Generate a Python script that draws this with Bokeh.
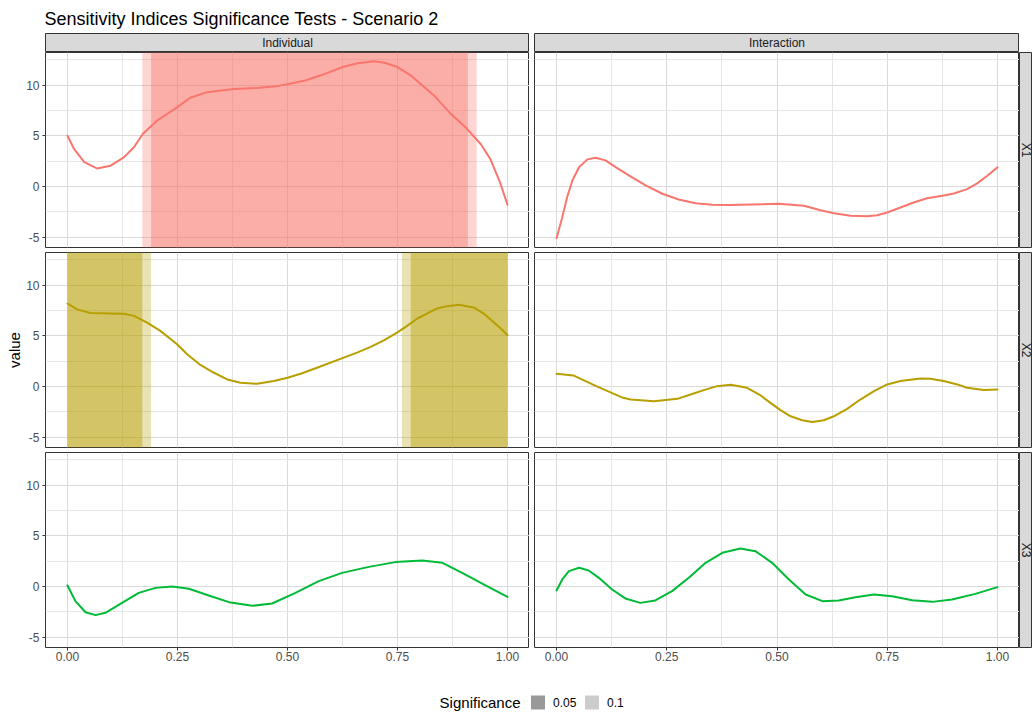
import math
from bokeh.plotting import figure
from bokeh.layouts import row, column
from bokeh.models import Range1d, FixedTicker, Spacer
from bokeh.core.properties import value
from bokeh.embed import file_html
from bokeh.resources import INLINE

FONT = "Liberation Sans"

# ---------------- data ----------------
title_text = "Sensitivity Indices Significance Tests - Scenario 2"
effects = ["Individual", "Interaction"]
variables = ["X1", "X2", "X3"]
line_colors = ["#F8766D", "#B79F00", "#00BA38"]
y_axis_title = "value"
legend_title = "Significance"
sig_levels = ["0.05", "0.1"]
sig_key_colors = ["#999999", "#CCCCCC"]

x_ticks = [0.0, 0.25, 0.5, 0.75, 1.0]
x_tick_labels = ["0.00", "0.25", "0.50", "0.75", "1.00"]
x_minor = [0.125, 0.375, 0.625, 0.875]
y_ticks = [-5, 0, 5, 10]
y_tick_labels = ["-5", "0", "5", "10"]
y_minor = [-2.5, 2.5, 7.5, 12.5]

x1_ind_x = [0.0, 0.015, 0.038, 0.067, 0.098, 0.128, 0.151, 0.171, 0.204, 0.249, 0.279, 0.317,
            0.378, 0.43, 0.473, 0.5, 0.54, 0.576, 0.627, 0.66, 0.696, 0.72, 0.749, 0.78,
            0.802, 0.833, 0.871, 0.908, 0.939, 0.961, 0.983, 1.0]
x1_ind_y = [5.0, 3.7, 2.4, 1.78, 2.05, 2.87, 3.86, 5.18, 6.5, 7.8, 8.75, 9.3,
            9.6, 9.7, 9.87, 10.07, 10.45, 10.96, 11.8, 12.15, 12.34, 12.2, 11.8, 10.96,
            10.13, 8.98, 7.16, 5.68, 4.19, 2.7, 0.4, -1.8]

x1_int_x = [0.0, 0.013, 0.024, 0.036, 0.051, 0.07, 0.088, 0.111, 0.134, 0.164, 0.202, 0.24,
            0.277, 0.315, 0.353, 0.391, 0.444, 0.504, 0.561, 0.599, 0.629, 0.667, 0.705, 0.727,
            0.75, 0.78, 0.81, 0.84, 0.875, 0.901, 0.931, 0.954, 0.977, 1.0]
x1_int_y = [-5.1, -3.03, -1.06, 0.59, 1.9, 2.67, 2.83, 2.57, 1.9, 1.09, 0.1, -0.72,
            -1.28, -1.65, -1.81, -1.84, -1.78, -1.71, -1.91, -2.34, -2.64, -2.9, -2.94, -2.84,
            -2.57, -2.08, -1.58, -1.16, -0.92, -0.69, -0.26, 0.3, 1.06, 1.88]

x2_ind_x = [0.0, 0.022, 0.052, 0.098, 0.128, 0.151, 0.181, 0.211, 0.249, 0.272, 0.30, 0.333,
            0.363, 0.393, 0.431, 0.469, 0.5, 0.53, 0.567, 0.628, 0.658, 0.689, 0.719, 0.749,
            0.772, 0.795, 0.817, 0.84, 0.863, 0.889, 0.923, 0.946, 0.961, 0.984, 1.0]
x2_ind_y = [8.18, 7.6, 7.25, 7.2, 7.16, 6.96, 6.3, 5.48, 4.16, 3.17, 2.18, 1.35,
            0.69, 0.36, 0.26, 0.53, 0.86, 1.25, 1.85, 2.84, 3.33, 3.9, 4.55, 5.31,
            5.97, 6.7, 7.19, 7.69, 7.92, 8.05, 7.79, 7.19, 6.63, 5.74, 5.05]

x2_int_x = [0.0, 0.038, 0.09, 0.151, 0.168, 0.221, 0.274, 0.304, 0.334, 0.364, 0.395, 0.432,
            0.463, 0.485, 0.508, 0.531, 0.557, 0.58, 0.606, 0.629, 0.659, 0.689, 0.72, 0.75,
            0.78, 0.825, 0.848, 0.878, 0.909, 0.931, 0.969, 1.0]
x2_int_y = [1.25, 1.09, 0.03, -1.12, -1.29, -1.45, -1.22, -0.79, -0.36, 0.03, 0.17, -0.13,
            -0.89, -1.62, -2.34, -2.94, -3.33, -3.5, -3.33, -2.94, -2.21, -1.29, -0.46, 0.2,
            0.53, 0.79, 0.76, 0.53, 0.2, -0.13, -0.36, -0.3]

x3_ind_x = [0.0, 0.018, 0.041, 0.064, 0.086, 0.124, 0.162, 0.2, 0.238, 0.276, 0.321, 0.367,
            0.42, 0.465, 0.518, 0.571, 0.624, 0.685, 0.745, 0.806, 0.852, 0.897, 0.95, 1.0]
x3_ind_y = [0.1, -1.45, -2.54, -2.83, -2.6, -1.62, -0.63, -0.14, 0.0, -0.23, -0.89, -1.55,
            -1.91, -1.68, -0.63, 0.52, 1.34, 1.93, 2.4, 2.57, 2.33, 1.34, 0.1, -1.03]

x3_int_x = [0.0, 0.013, 0.028, 0.051, 0.073, 0.096, 0.126, 0.156, 0.19, 0.224, 0.262, 0.3,
            0.338, 0.376, 0.417, 0.451, 0.489, 0.527, 0.565, 0.603, 0.64, 0.678, 0.72, 0.761,
            0.807, 0.852, 0.897, 0.95, 1.0]
x3_int_y = [-0.4, 0.69, 1.51, 1.84, 1.58, 0.85, -0.3, -1.18, -1.62, -1.38, -0.46, 0.85,
            2.33, 3.32, 3.75, 3.48, 2.33, 0.69, -0.79, -1.45, -1.38, -1.06, -0.79, -0.96,
            -1.35, -1.52, -1.29, -0.73, -0.07]

# significance bands (start, end) per level
x1_ind_sig05_start = [0.19]
x1_ind_sig05_end = [0.91]
x1_ind_sig10_start = [0.17]
x1_ind_sig10_end = [0.93]
x2_ind_sig05_start = [0.0, 0.78]
x2_ind_sig05_end = [0.17, 1.0]
x2_ind_sig10_start = [0.0, 0.76]
x2_ind_sig10_end = [0.19, 1.0]

curves = {
    (0, 0): (x1_ind_x, x1_ind_y), (0, 1): (x1_int_x, x1_int_y),
    (1, 0): (x2_ind_x, x2_ind_y), (1, 1): (x2_int_x, x2_int_y),
    (2, 0): (x3_ind_x, x3_ind_y), (2, 1): (x3_int_x, x3_int_y),
}
bands = {
    (0, 0): [(x1_ind_sig10_start, x1_ind_sig10_end, 0.30), (x1_ind_sig05_start, x1_ind_sig05_end, 0.43)],
    (1, 0): [(x2_ind_sig10_start, x2_ind_sig10_end, 0.30), (x2_ind_sig05_start, x2_ind_sig05_end, 0.43)],
}

# ---------------- layout constants ----------------
TOTAL_W = 1032
XR = (-0.05, 1.05)
YR = (-6.02, 13.21)
PANEL_WL = 484
PANEL_WR = 485
PANEL_H = 195
LEFT_W = 45
GAP = 5
RSTRIP_W = TOTAL_W - LEFT_W - PANEL_WL - GAP - PANEL_WR
TOP_STRIP_H = 19
AXIS_H = 22
TITLE_H = 33
LEGEND_H = 713 - TITLE_H - TOP_STRIP_H - 3 * PANEL_H - 2 * GAP - AXIS_H
STRIP_FILL = "#D9D9D9"
BORDER = "#333333"


def blank(p):
    p.grid.visible = False


def make_panel(vi, ei):
    is_left = ei == 0
    is_bottom = vi == len(variables) - 1
    bb = AXIS_H if is_bottom else GAP
    lb = LEFT_W if is_left else GAP
    pw = PANEL_WL if is_left else PANEL_WR
    p = figure(title=None, width=pw + lb, height=PANEL_H + bb,
               x_range=Range1d(*XR), y_range=Range1d(*YR),
               x_axis_location="below" if is_bottom else None,
               y_axis_location="left" if is_left else None,
               min_border_left=lb, min_border_right=0, min_border_top=0, min_border_bottom=bb,
               toolbar_location=None, output_backend="svg",
               background_fill_color="white", border_fill_color="white",
               outline_line_color=BORDER, outline_line_width=1)
    p.xgrid.ticker = FixedTicker(ticks=x_ticks, minor_ticks=x_minor)
    p.ygrid.ticker = FixedTicker(ticks=y_ticks, minor_ticks=y_minor)
    for g in (p.xgrid, p.ygrid):
        g.grid_line_color = "#DADADA"
        g.grid_line_width = 1
        g.minor_grid_line_color = "#E6E6E6"
        g.minor_grid_line_width = 1

    p.xaxis.ticker = FixedTicker(ticks=x_ticks)
    p.xaxis.major_label_overrides = {t: l for t, l in zip(x_ticks, x_tick_labels)}
    p.yaxis.ticker = FixedTicker(ticks=y_ticks)
    p.yaxis.major_label_overrides = {t: l for t, l in zip(y_ticks, y_tick_labels)}
    for ax in list(p.xaxis) + list(p.yaxis):
        ax.axis_line_color = None
        ax.major_tick_line_color = BORDER
        ax.major_tick_out = 3
        ax.major_tick_in = 0
        ax.minor_tick_line_color = None
        ax.major_label_text_font = FONT
        ax.major_label_text_font_size = "12px"
        ax.major_label_text_color = "#4D4D4D"
    p.xaxis.major_label_standoff = 1
    p.yaxis.major_label_standoff = 3
    if is_left and vi == 1:
        p.yaxis.axis_label = y_axis_title
        p.yaxis.axis_label_text_font = FONT
        p.yaxis.axis_label_text_font_size = "15px"
        p.yaxis.axis_label_text_font_style = "normal"
        p.yaxis.axis_label_text_color = "#000000"
        p.yaxis.axis_label_standoff = 0

    color = line_colors[vi]
    for starts, ends, alpha in bands.get((vi, ei), []):
        p.quad(left=starts, right=ends, bottom=[YR[0]] * len(starts), top=[YR[1]] * len(starts),
               fill_color=color, fill_alpha=alpha, line_color=None)
    xs, ys = curves[(vi, ei)]
    p.line(xs, ys, line_color=color, line_width=2, line_join="round", line_cap="round")
    return p


def make_strip(label, width, height, lb, bb, angle=0.0):
    s = figure(title=None, width=width, height=height, x_range=Range1d(0, 1), y_range=Range1d(0, 1),
               x_axis_location=None, y_axis_location=None,
               min_border_left=lb, min_border_right=0, min_border_top=0, min_border_bottom=bb,
               toolbar_location=None, output_backend="svg",
               background_fill_color=STRIP_FILL, border_fill_color="white",
               outline_line_color=BORDER, outline_line_width=1)
    blank(s)
    s.text(x=[0.5], y=[0.5], text=[label], angle=angle, text_align="center",
           text_baseline="middle", text_font=value(FONT), text_font_size="12px",
           text_color="#1A1A1A")
    return s


# title
tfig = figure(title=None, width=TOTAL_W, height=TITLE_H, x_range=Range1d(0, TOTAL_W), y_range=Range1d(0, TITLE_H),
              x_axis_location=None, y_axis_location=None, min_border=0,
              toolbar_location=None, output_backend="svg", outline_line_color=None)
blank(tfig)
tfig.text(x=[44], y=[TITLE_H - 18], text=[title_text], text_align="left", text_baseline="middle",
          text_font=value(FONT), text_font_size="18px", text_color="#000000")

# top strips
strip_row = row(
    make_strip(effects[0], LEFT_W + PANEL_WL, TOP_STRIP_H, LEFT_W, 0),
    make_strip(effects[1], GAP + PANEL_WR, TOP_STRIP_H, GAP, 0),
    Spacer(width=RSTRIP_W, height=TOP_STRIP_H),
)

rows = []
for vi, var in enumerate(variables):
    bb = AXIS_H if vi == len(variables) - 1 else GAP
    rows.append(row(make_panel(vi, 0), make_panel(vi, 1),
                    make_strip(var, RSTRIP_W, PANEL_H + bb, 0, bb, angle=-math.pi / 2)))

# legend
lfig = figure(title=None, width=TOTAL_W, height=LEGEND_H, x_range=Range1d(0, TOTAL_W), y_range=Range1d(0, LEGEND_H),
              x_axis_location=None, y_axis_location=None, min_border=0,
              toolbar_location=None, output_backend="svg", outline_line_color=None)
blank(lfig)
ly = LEGEND_H - 33
lfig.text(x=[520], y=[ly], text=[legend_title], text_align="right", text_baseline="middle",
          text_font=value(FONT), text_font_size="15px", text_color="#000000")
key_x = [537.5, 591.5]
lfig.rect(x=key_x, y=[ly] * 2, width=14, height=14, fill_color=sig_key_colors, line_color=None)
lfig.text(x=[k + 15 for k in key_x], y=[ly] * 2, text=sig_levels, text_align="left",
          text_baseline="middle", text_font=value(FONT), text_font_size="12px", text_color="#000000")

layout = column(tfig, strip_row, *rows, lfig)
open("out.html", "w").write(file_html(layout, INLINE))
